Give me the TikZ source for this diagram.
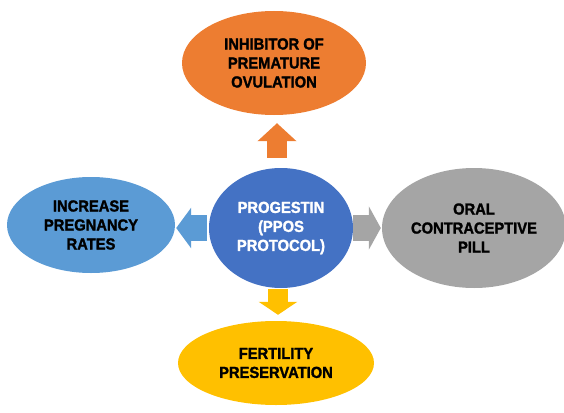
\documentclass[tikz,border=0pt]{standalone}
\usepackage{fontspec}
\setmainfont{Liberation Sans}[BoldFeatures={FakeBold=1.6, FakeStretch=0.92}]
\usetikzlibrary{shapes.geometric,arrows.meta}

\definecolor{offorange}{HTML}{ED7D31}
\definecolor{offblue}{HTML}{4472C4}
\definecolor{offlight}{HTML}{5B9BD5}
\definecolor{offgrey}{HTML}{A5A5A5}
\definecolor{offgold}{HTML}{FFC000}

\begin{document}
\begin{tikzpicture}[x=1pt, y=-1pt,
        bubble/.style={ellipse, inner sep=0pt, align=center,
            font=\fontsize{16}{19}\selectfont\bfseries},
        blockarrow/.style={line width=#1, -{Triangle[length=15pt, width=40pt]}}]
        \useasboundingbox (0, 0) rectangle (564, 412);

        % Draw vertices
        \node[bubble, fill=offblue, text=white, minimum width=144pt, minimum height=120pt] (prog) at (281, 228) {PROGESTIN\\(PPOS\\PROTOCOL)};
        \node[bubble, fill=offorange, minimum width=184pt, minimum height=104pt] (inhib) at (274, 63) {INHIBITOR OF\\PREMATURE\\OVULATION};
        \node[bubble, fill=offlight, minimum width=168pt, minimum height=96pt] (preg) at (91, 225) {INCREASE\\PREGNANCY\\RATES};
        \node[bubble, fill=offgrey, minimum width=184pt, minimum height=120pt] (pill) at (474, 228) {ORAL\\CONTRACEPTIVE\\PILL};
        \node[bubble, fill=offgold, minimum width=196pt, minimum height=84pt] (fert) at (276, 363) {FERTILITY\\PRESERVATION};

        % Draw edges
        \draw[blockarrow=20pt, offorange, -{Triangle[length=18pt, width=38pt]}, shorten <=10pt, shorten >=8pt] ([xshift=-4pt]prog.north) -- ([xshift=-4pt]prog.north |- inhib.south);
        \draw[blockarrow=26pt, offlight, shorten <=2pt, shorten >=1pt] (prog.west) -- (prog.west -| preg.east);
        \draw[blockarrow=26pt, offgrey, -{Triangle[length=12pt, width=43pt]}, shorten <=0pt, shorten >=1pt] (prog.east) -- (prog.east -| pill.west);
        \draw[blockarrow=20pt, offgold, -{Triangle[length=13pt, width=38pt]}, shorten <=1pt, shorten >=6pt] ([xshift=-3pt]prog.south) -- ([xshift=-3pt]prog.south |- fert.north);
\end{tikzpicture}
\end{document}
